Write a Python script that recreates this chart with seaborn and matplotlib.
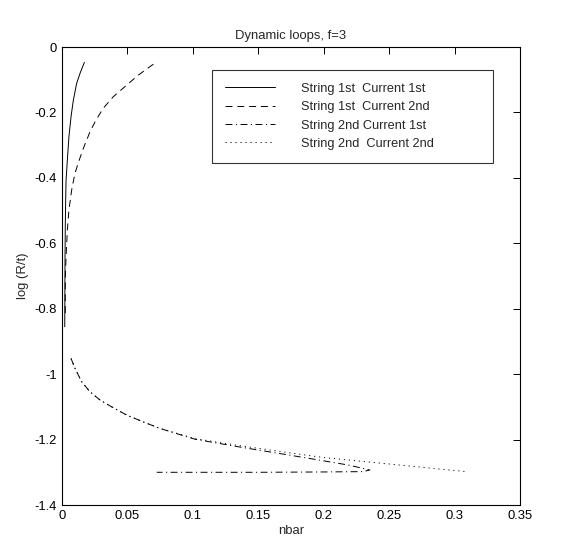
import matplotlib
matplotlib.use("Agg")
import matplotlib.pyplot as plt
import seaborn as sns
import pandas as pd

# String 1st, Current 1st (solid)
s1c1_x = [0.0021, 0.0022, 0.0023, 0.0025, 0.0028, 0.0031, 0.0041, 0.0053, 0.0069, 0.0087, 0.0112, 0.0140, 0.0171]
s1c1_y = [-0.855, -0.75, -0.65, -0.55, -0.47, -0.407, -0.345, -0.274, -0.213, -0.162, -0.111, -0.078, -0.047]

# String 1st, Current 2nd (dashed)
s1c2_x = [0.0025, 0.0025, 0.0031, 0.0041, 0.0053, 0.0074, 0.0099, 0.0132, 0.0168, 0.0214,
          0.0260, 0.0316, 0.0392, 0.0481, 0.0583, 0.0724]
s1c2_y = [-0.813, -0.712, -0.641, -0.559, -0.498, -0.437, -0.386, -0.345, -0.305, -0.259,
          -0.223, -0.187, -0.152, -0.121, -0.086, -0.045]

# String 2nd, Current 1st (dash-dot, goes out and comes back)
s2c1_x = [0.0069, 0.0099, 0.0150, 0.0214, 0.0290, 0.0380, 0.0494, 0.0621, 0.0749, 0.1016,
          0.1347, 0.1730, 0.2000, 0.2190, 0.2353, 0.2300, 0.2000, 0.1500, 0.1000, 0.0724]
s2c1_y = [-0.952, -0.982, -1.023, -1.054, -1.079, -1.100, -1.125, -1.146, -1.166, -1.199,
          -1.222, -1.247, -1.265, -1.278, -1.293, -1.298, -1.299, -1.300, -1.300, -1.300]

# String 2nd, Current 2nd (dotted)
s2c2_x = [0.0069, 0.0099, 0.0150, 0.0214, 0.0290, 0.0380, 0.0494, 0.0621, 0.0749, 0.1016,
          0.1347, 0.1730, 0.2000, 0.2330, 0.2710, 0.3090]
s2c2_y = [-0.952, -0.982, -1.023, -1.054, -1.079, -1.100, -1.125, -1.146, -1.166, -1.197,
          -1.218, -1.240, -1.255, -1.268, -1.283, -1.298]

labels = ["String 1st  Current 1st", "String 1st  Current 2nd",
          "String 2nd Current 1st", "String 2nd  Current 2nd"]
styles = ["-", (0, (5, 3.5)), (0, (5, 2.5, 0.8, 2.5)), (0, (0.8, 2.8))]

xticks = [0, 0.05, 0.1, 0.15, 0.2, 0.25, 0.3, 0.35]
xticklabels = ["0", "0.05", "0.1", "0.15", "0.2", "0.25", "0.3", "0.35"]
yticks = [-1.4, -1.2, -1.0, -0.8, -0.6, -0.4, -0.2, 0]
yticklabels = ["-1.4", "-1.2", "-1", "-0.8", "-0.6", "-0.4", "-0.2", "0"]

sns.set_style("white")
plt.rcParams["font.family"] = ["Liberation Sans", "DejaVu Sans"]
plt.rcParams["axes.unicode_minus"] = False
plt.rcParams["lines.scale_dashes"] = False

fig = plt.figure(figsize=(5.86, 5.39), dpi=100)
ax = fig.add_axes([62 / 586, 34 / 539, 458 / 586, 458 / 539])

series = [(s1c1_x, s1c1_y), (s1c2_x, s1c2_y), (s2c1_x, s2c1_y), (s2c2_x, s2c2_y)]
for (xs, ys), lab, ls in zip(series, labels, styles):
    df = pd.DataFrame({"x": xs, "y": ys})
    sns.lineplot(data=df, x="x", y="y", sort=False, estimator=None, color="black",
                 linestyle=ls, linewidth=0.7, label=lab, ax=ax)

ax.set_xlim(0, 0.35)
ax.set_ylim(-1.4, 0)
ax.set_xticks(xticks)
ax.set_xticklabels(xticklabels)
ax.set_yticks(yticks)
ax.set_yticklabels(yticklabels)
ax.tick_params(direction="in", length=5, width=0.7, top=True, right=True,
               labelsize=9.4, colors="black")
for sp in ax.spines.values():
    sp.set_linewidth(0.8)
    sp.set_color("black")

ax.set_title("Dynamic loops, f=3", fontsize=9.4, pad=6)
ax.set_xlabel("nbar", fontsize=9.4, labelpad=2)
ax.set_ylabel("log (R/t)", fontsize=9.4, labelpad=4)

leg = ax.legend(loc="upper left",
                bbox_to_anchor=((212 - 62) / 458, (505 - 70) / 458, 281 / 458, 0.0),
                mode="expand", fontsize=9.2, frameon=True, fancybox=False,
                edgecolor="black", handlelength=3.9, handletextpad=2.1,
                labelspacing=0.5, borderpad=1.0, borderaxespad=0)
leg.get_frame().set_linewidth(0.8)

fig.savefig("out.png", dpi=100, facecolor="white")
